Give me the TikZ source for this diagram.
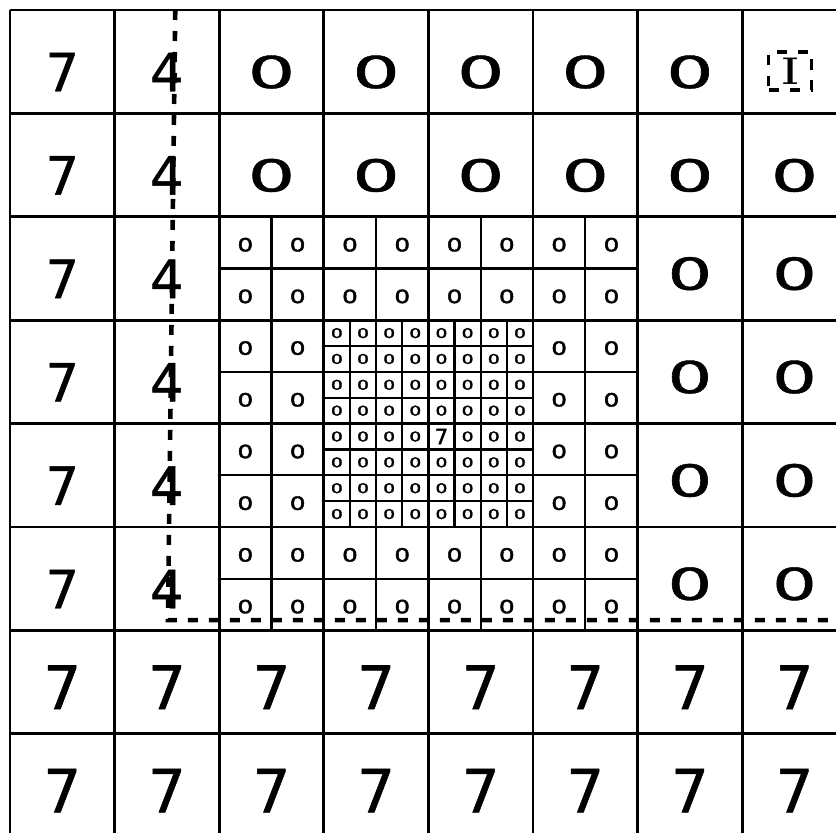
\documentclass[tikz,border=0pt]{standalone}
\usepackage{fontspec}
\usetikzlibrary{calc}
\newfontfamily\pen[FakeBold=0.9]{DejaVu Sans}
\newfontfamily\penheavy[FakeBold=2]{DejaVu Sans}
% a wide hand-drawn zero
\newcommand{\zr}[1]{\scalebox{#1}[1]{0}}

\begin{document}
\begin{tikzpicture}[x=1.046cm, y=-1.034cm,
    major/.style={line width=0.75pt},
    minor/.style={line width=0.65pt},
    cut/.style={line width=1.3pt, dash pattern=on 1mm off 1.1mm},
    bigdigit/.style={inner sep=0pt, font=\pen\fontsize{15}{15}\selectfont},
    lowdigit/.style={inner sep=0pt, font=\pen\fontsize{17}{17}\selectfont},
    bigzero/.style={inner sep=0pt, font=\pen\fontsize{12.5}{12.5}\selectfont},
    halfzero/.style={inner sep=0pt, font=\penheavy\fontsize{5.2}{5.2}\selectfont},
    quartzero/.style={inner sep=0pt, font=\penheavy\fontsize{3.8}{3.8}\selectfont}]
    \useasboundingbox (-0.0956,-0.0967) rectangle (7.897,7.95);
    \clip (-0.0956,-0.0967) rectangle (7.897,7.95);

    % main grid
    \foreach \k in {0,...,7} {
        \draw[major] (\k,0) -- (\k,8);
        \draw[major] (0,\k) -- (8,\k);
    }
    % half cells
    \foreach \k in {2.5,3.5,4.5,5.5} {
        \draw[minor] (\k,2) -- (\k,6);
        \draw[minor] (2,\k) -- (6,\k);
    }
    % quarter cells
    \foreach \k in {3.25,3.75,4.25,4.75} {
        \draw[minor] (\k,3) -- (\k,5);
        \draw[minor] (3,\k) -- (5,\k);
    }

    % left columns
    \foreach \r in {0,...,5} {
        \node[bigdigit] (b-\r-0) at (0.5,\r+0.6) {7};
        \node[bigdigit] (b-\r-1) at (1.5,\r+0.6) {4};
    }
    \foreach \r in {6,7} {
        \foreach \c in {0,...,7} {
            \node[lowdigit] (b-\r-\c) at (\c+0.5,\r+0.55) {7};
        }
    }

    % big zeros
    \foreach \c in {2,...,6} {
        \node[bigzero] (b-0-\c) at (\c+0.5,0.6) {\zr{1.7}};
    }
    \foreach \c in {2,...,7} {
        \node[bigzero] (b-1-\c) at (\c+0.5,1.6) {\zr{1.7}};
    }
    \foreach \r in {2,...,5} {
        \foreach \c in {6,7} {
            \node[bigzero] (b-\r-\c) at (\c+0.5,\r+0.55) {\zr{1.6}};
        }
    }
    \node[draw, dashed, line width=0.9pt, inner sep=1.2pt, minimum width=0.43cm, minimum height=0.38cm,
          font=\rmfamily\bfseries\fontsize{11}{11}\selectfont] (mark) at (7.46,0.59) {I};

    % half-size zeros
    \foreach \i in {4,...,11} {
        \foreach \j in {4,...,11} {
            \pgfmathtruncatemacro\inner{(\i>5)*(\i<10)*(\j>5)*(\j<10)}
            \ifnum\inner=0
                \node[halfzero] (h-\i-\j) at ({(\j+0.5)/2},{(\i+0.5)/2+0.02}) {\zr{1.35}};
            \fi
        }
    }

    % quarter-size zeros, one seven
    \foreach \i in {0,...,7} {
        \foreach \j in {0,...,7} {
            \pgfmathtruncatemacro\seven{(\i==4)*(\j==4)}
            \ifnum\seven=1
                \node[quartzero, font=\penheavy\fontsize{6}{6}\selectfont] (q-\i-\j) at ({3+(\j+0.5)/4},{3+(\i+0.5)/4}) {7};
            \else
                \node[quartzero] (q-\i-\j) at ({3+(\j+0.5)/4},{3+(\i+0.5)/4}) {\zr{1.4}};
            \fi
        }
    }

    % cut line
    \coordinate (cut-top) at (1.58,0);
    \coordinate (cut-bend) at (1.51,5.9);
    \coordinate (cut-end) at (8,5.9);
    \draw[cut] (cut-top) -- (cut-bend) -- (cut-end);
\end{tikzpicture}
\end{document}
